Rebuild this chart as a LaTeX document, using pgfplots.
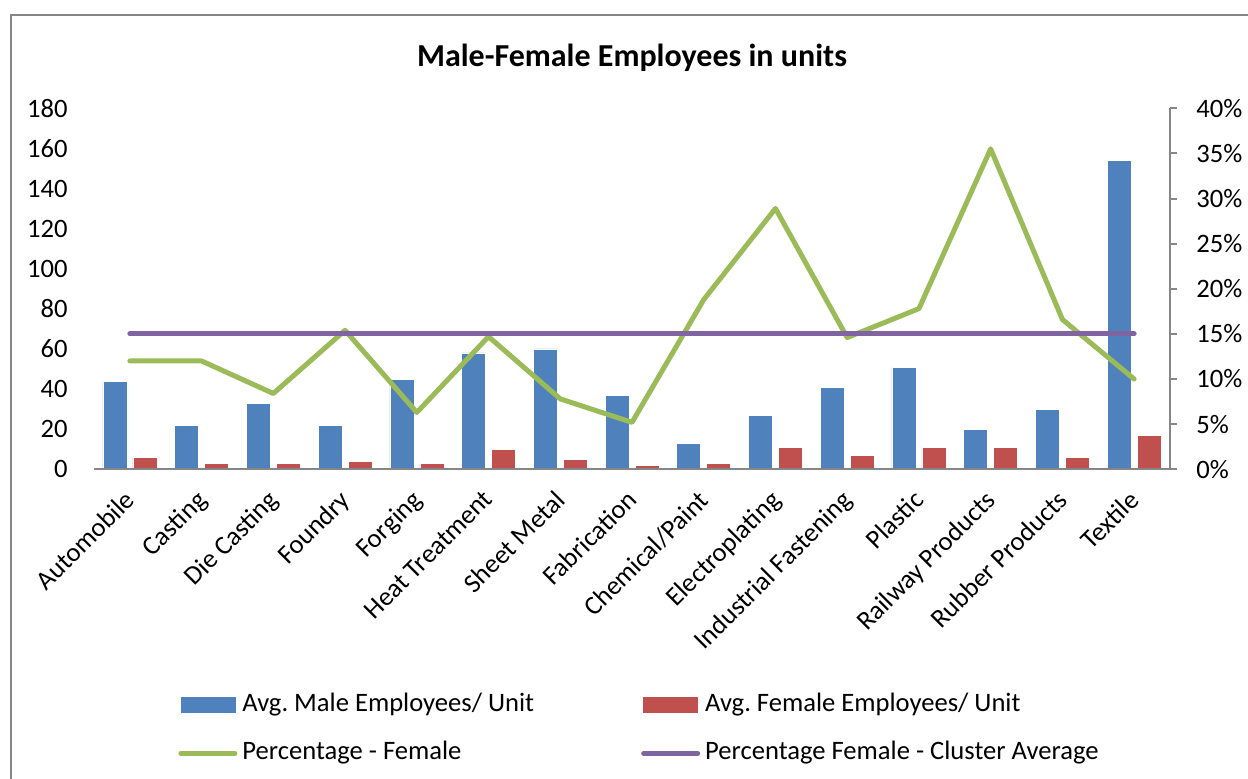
\documentclass[border=0pt]{standalone}
\usepackage{pgfplots}
\pgfplotsset{compat=1.18}
\usepackage{fontspec}
\setmainfont{Carlito}
\frenchspacing
\definecolor{cBlue}{HTML}{4F81BD}
\definecolor{cRed}{HTML}{C0504D}
\definecolor{cGreen}{HTML}{9BBB59}
\definecolor{cPurple}{HTML}{8064A2}
\definecolor{cAxis}{HTML}{868686}
\begin{document}
\begin{tikzpicture}
\useasboundingbox (0,0) rectangle (624pt,389.5pt);
\draw[cAxis, line width=1pt] (5.5pt,-20pt) -- (5.5pt,382pt) -- (650pt,382pt);
\begin{axis}[
  at={(47pt,154.85pt)}, anchor=south west,
  scale only axis, width=538pt, height=180.5pt,
  xmin=-0.5, xmax=14.5, ymin=0, ymax=180,
  ytick={0,20,...,180},
  axis x line*=bottom, axis y line*=left,
  axis on top,
  y axis line style={draw=none},
  x axis line style={cAxis, line width=1pt},
  major tick length=0pt,
  xtick={0,...,14},
  xticklabels={Automobile,Casting,Die Casting,Foundry,Forging,Heat Treatment,Sheet Metal,Fabrication,Chemical/Paint,Electroplating,Industrial Fastening,Plastic,Railway Products,Rubber Products,Textile},
  xticklabel style={rotate=45, anchor=north east, inner sep=0pt, xshift=-9.1pt, yshift=-4.4pt},
  yticklabel style={inner sep=0pt, xshift=-13pt},
  tick label style={font=\fontsize{13.3}{16}\selectfont},
  /pgf/number format/assume math mode=true,
  ybar=3pt, bar width=12pt,
  title={Male-Female Employees in units},
  title style={at={(0.5,1)}, anchor=center, yshift=19pt, font=\bfseries\fontsize{16}{19}\selectfont},
]
\addplot[fill=cBlue, draw=white, line width=0.3pt] coordinates {
(0,44) (1,22) (2,33) (3,22) (4,45) (5,58) (6,60) (7,37) (8,13) (9,27) (10,41) (11,51) (12,20) (13,30) (14,154)};
\addplot[fill=cRed, draw=white, line width=0.3pt] coordinates {
(0,6) (1,3) (2,3) (3,4) (4,3) (5,10) (6,5) (7,2) (8,3) (9,11) (10,7) (11,11) (12,11) (13,6) (14,17)};
\end{axis}
\begin{axis}[
  at={(47pt,154.85pt)}, anchor=south west,
  scale only axis, width=538pt, height=180.5pt,
  xmin=-0.5, xmax=14.5, ymin=0, ymax=40,
  ytick={0,5,...,40},
  axis x line=none, axis y line*=right,
  y axis line style={cAxis, line width=1pt},
  ytick style={cAxis, line width=1pt},
  tick align=outside, major tick length=3.5pt,
  yticklabel={\pgfmathprintnumber{\tick}\%},
  yticklabel style={inner sep=0pt, xshift=9.5pt},
  tick label style={font=\fontsize{13.3}{16}\selectfont},
  /pgf/number format/assume math mode=true,
  legend image code/.code={\draw[#1] (0pt,0pt) -- (27pt,0pt);},
  legend style={at={(0.0725,-0.6086)}, anchor=north west, draw=none, fill=none,
    font=\fontsize{13.3}{16}\selectfont, row sep=12pt,
    nodes={inner sep=0pt, text height=9pt, text depth=3pt, inner xsep=2.5pt},
    /tikz/every even column/.append style={column sep=51pt}},
  legend columns=2, legend cell align=left,
]
\addlegendimage{legend image code/.code={\fill[cBlue] (0pt,-3.75pt) rectangle (27pt,3.75pt);}}
\addlegendimage{legend image code/.code={\fill[cRed] (0pt,-3.75pt) rectangle (27pt,3.75pt);}}
\addplot[cGreen, line width=2.5pt, line join=round, line cap=round] coordinates {
(0,12.0) (1,12.0) (2,8.4) (3,15.4) (4,6.3) (5,14.7) (6,7.8) (7,5.2) (8,18.8) (9,28.9) (10,14.6) (11,17.8) (12,35.5) (13,16.6) (14,10.0)};
\addplot[cPurple, line width=2.5pt, line cap=round] coordinates {
(0,15) (1,15) (2,15) (3,15) (4,15) (5,15) (6,15) (7,15) (8,15) (9,15) (10,15) (11,15) (12,15) (13,15) (14,15)};
\legend{Avg. Male Employees/ Unit, Avg. Female Employees/ Unit, Percentage - Female, Percentage Female - Cluster Average}
\end{axis}
\end{tikzpicture}
\end{document}
